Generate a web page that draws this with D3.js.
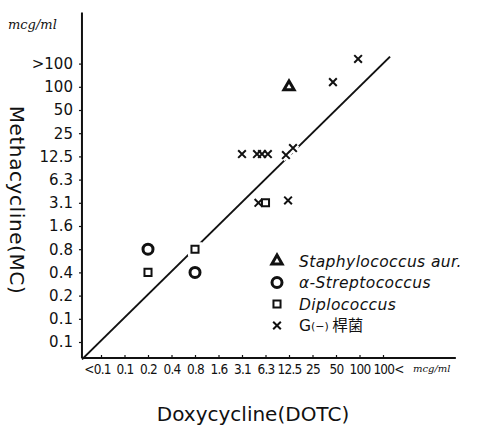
<!DOCTYPE html>
<html>
<head>
<meta charset="utf-8">
<script src="https://cdn.jsdelivr.net/npm/d3@7"></script>
<style>
  body { margin: 0; background: #fff; }
  svg { display: block; }
</style>
</head>
<body>
<div id="chart"></div>
<script>
// concentration ladders (mcg/ml), evenly spaced on the axes
const xLabels = ["<0.1", "0.1", "0.2", "0.4", "0.8", "1.6", "3.1", "6.3", "12.5", "25", "50", "100", "100<"];
const yLabels = ["0.1", "0.1", "0.2", "0.4", "0.8", "1.6", "3.1", "6.3", "12.5", "25", "50", "100", ">100"];

// points as [DOTC step, MC step]
const staph = [[8, 11]];
const strep = [[2, 4], [4, 3]];
const diplo = [[4, 4], [2, 3], [7, 6]];
const gneg = [[10.94, 12.2], [9.87, 11.2], [6, 8.1], [6.64, 8.1], [6.85, 8.1], [7.1, 8.1],
              [7.87, 8.06], [8.17, 8.36], [6.7, 6], [7.96, 6.1]];

const legendNames = ["Staphylococcus aur.", "α-Streptococcus", "Diplococcus", "G(−) 桿菌"];

const w = 478, h = 428;

const svg = d3.select("#chart").append("svg")
    .attr("width", w)
    .attr("height", h);

const x = d3.scaleLinear().domain([0, 12]).range([101, 383]);
const y = d3.scaleLinear().domain([0, 12]).range([342, 63.6]);

const ink = "#111";

// axes
const xAxis = svg.append("g")
    .attr("transform", "translate(0," + y(-0.69) + ")")
    .call(d3.axisBottom(x).tickValues(d3.range(13)).tickFormat(i => xLabels[i]).tickSize(-3).tickPadding(6));
xAxis.select(".domain").remove();
xAxis.selectAll("line").attr("stroke", ink).attr("stroke-width", 1.2);
xAxis.selectAll("text")
    .attr("fill", ink)
    .attr("font-family", "'DejaVu Sans Condensed', 'DejaVu Sans', sans-serif")
    .attr("font-size", "13.5px")
    .attr("letter-spacing", "-0.8px")
    .attr("dx", i => i === 0 ? -4 : i === 12 ? 5 : 0);
xAxis.append("line")
    .attr("x1", x(-0.81)).attr("x2", x(15.1))
    .attr("stroke", ink).attr("stroke-width", 2);

const yAxis = svg.append("g")
    .attr("transform", "translate(" + x(-0.81) + ",0)")
    .call(d3.axisLeft(y).tickValues(d3.range(13)).tickFormat(i => yLabels[i]).tickSize(3).tickPadding(6));
yAxis.select(".domain").remove();
yAxis.selectAll("line").attr("stroke", ink).attr("stroke-width", 1.2);
yAxis.selectAll("text")
    .attr("fill", ink)
    .attr("font-family", "'DejaVu Sans', sans-serif")
    .attr("font-size", "15px");
yAxis.append("line")
    .attr("y1", y(-0.69)).attr("y2", y(14.2))
    .attr("stroke", ink).attr("stroke-width", 2);

// MC = DOTC line
svg.append("line")
    .attr("x1", x(-0.81)).attr("y1", y(-0.75))
    .attr("x2", x(12.3)).attr("y2", y(12.3))
    .attr("stroke", ink).attr("stroke-width", 2);

// markers
const sym = {
    tri: d3.symbol().type(d3.symbolTriangle).size(45),
    sq: d3.symbol().type(d3.symbolSquare).size(50),
    cross: d3.symbol().type(d3.symbolTimes).size(40)
};

function drawCircle(g, px, py, halo) {
    g.append("circle").attr("cx", px).attr("cy", py).attr("r", 5)
        .attr("fill", "none").attr("stroke", halo ? "#fff" : ink).attr("stroke-width", halo ? 8 : 3);
}
function drawSym(g, s, px, py, halo, sw) {
    g.append("path").attr("d", s).attr("transform", "translate(" + px + "," + py + ")")
        .attr("fill", "none").attr("stroke", halo ? "#fff" : ink).attr("stroke-width", halo ? 7 : sw);
}

const groups = [
    {data: staph, draw: (g, px, py, halo) => drawSym(g, sym.tri(), px, py, halo, 3)},
    {data: strep, draw: (g, px, py, halo) => drawCircle(g, px, py, halo)},
    {data: diplo, draw: (g, px, py, halo) => drawSym(g, sym.sq(), px, py, halo, 2)},
    {data: gneg, draw: (g, px, py, halo) => drawSym(g, sym.cross(), px, py, halo, 2)}
];

const halos = svg.append("g");
const marks = svg.append("g");
groups.forEach(gr => {
    gr.data.forEach(d => {
        gr.draw(halos, x(d[0]), y(d[1]), true);
    });
});
groups.forEach(gr => {
    gr.data.forEach(d => {
        gr.draw(marks, x(d[0]), y(d[1]), false);
    });
});

// legend
const legend = svg.append("g").attr("transform", "translate(277,261)");
groups.forEach((gr, i) => {
    const g = legend.append("g").attr("transform", "translate(0," + i * 21.5 + ")");
    gr.draw(g, 0, 0, false);
    const t = g.append("text")
        .attr("x", 22).attr("y", 5.5)
        .attr("fill", ink)
        .attr("font-family", "'DejaVu Sans', sans-serif")
        .attr("font-size", "15.5px");
    if (i < 3) {
        t.attr("font-style", "italic").attr("letter-spacing", "0.4px").text(legendNames[i]);
    } else {
        t.append("tspan").text("G");
        t.append("tspan").attr("font-size", "11px").attr("dy", -1).text("(−)");
        t.append("tspan").attr("dy", 1).attr("font-family", "'Noto Sans CJK TC', sans-serif").text(" 桿菌");
    }
});

// titles and units
svg.append("text")
    .attr("x", 8).attr("y", 29)
    .attr("font-family", "'DejaVu Serif', serif")
    .attr("font-style", "italic")
    .attr("font-size", "13px")
    .attr("fill", ink)
    .text("mcg/ml");

svg.append("text")
    .attr("x", 413).attr("y", 372)
    .attr("font-family", "'DejaVu Serif', serif")
    .attr("font-style", "italic")
    .attr("font-size", "10px")
    .attr("fill", ink)
    .text("mcg/ml");

svg.append("text")
    .attr("transform", "translate(10,200) rotate(90)")
    .attr("text-anchor", "middle")
    .attr("font-family", "'DejaVu Sans', sans-serif")
    .attr("font-size", "20px")
    .attr("letter-spacing", "0.6px")
    .attr("fill", ink)
    .text("Methacycline(MC)");

svg.append("text")
    .attr("x", 253).attr("y", 421)
    .attr("text-anchor", "middle")
    .attr("font-family", "'DejaVu Sans', sans-serif")
    .attr("font-size", "20px")
    .attr("fill", ink)
    .text("Doxycycline(DOTC)");
</script>
</body>
</html>
